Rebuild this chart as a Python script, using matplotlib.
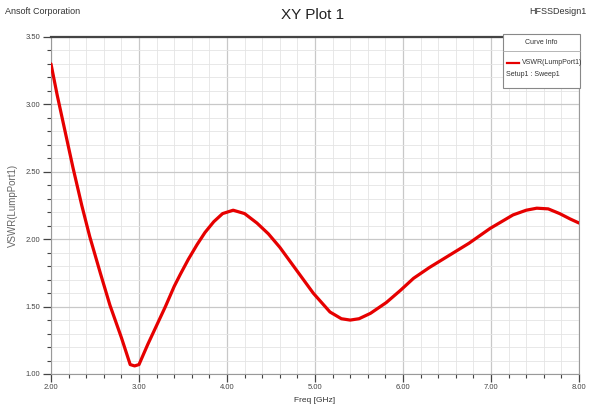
import matplotlib.pyplot as plt
from matplotlib.patches import Rectangle
from matplotlib.lines import Line2D
from matplotlib.ticker import MultipleLocator, FormatStrFormatter

plt.rcParams['font.family'] = ['Liberation Sans Narrow', 'Liberation Sans', 'DejaVu Sans']

# VSWR sweep of LumpPort1
freq_ghz = [2.00, 2.07, 2.14, 2.25, 2.35, 2.44, 2.56, 2.67, 2.80, 2.90, 2.95, 3.00,
            3.10, 3.20, 3.30, 3.40, 3.47, 3.56, 3.66, 3.75, 3.85, 3.95, 4.07,
            4.20, 4.34, 4.47, 4.60, 4.79, 4.98, 5.17, 5.30, 5.40, 5.50, 5.63,
            5.81, 5.97, 6.12, 6.30, 6.50, 6.75, 6.99, 7.25, 7.40, 7.52, 7.65, 7.78,
            7.90, 8.00]
vswr = [3.30, 3.07, 2.86, 2.53, 2.25, 2.02, 1.75, 1.51, 1.27, 1.07, 1.06, 1.07,
        1.22, 1.36, 1.50, 1.65, 1.74, 1.85, 1.96, 2.05, 2.13, 2.19, 2.215,
        2.19, 2.12, 2.04, 1.94, 1.77, 1.60, 1.46, 1.41, 1.40, 1.41, 1.45,
        1.53, 1.62, 1.71, 1.79, 1.87, 1.97, 2.08, 2.18, 2.215, 2.23, 2.225, 2.19,
        2.15, 2.12]

fig = plt.figure(figsize=(5.9, 4.08), dpi=100)
ax = fig.add_axes([51 / 590, 34 / 408, 528 / 590, 337 / 408])

ax.plot(freq_ghz, vswr, color='#e60000', lw=2.3, solid_joinstyle='round',
        solid_capstyle='round', zorder=3)

ax.set_xlim(2.0, 8.0)
ax.set_ylim(1.0, 3.5)
ax.xaxis.set_major_locator(MultipleLocator(1.0))
ax.xaxis.set_minor_locator(MultipleLocator(0.2))
ax.yaxis.set_major_locator(MultipleLocator(0.5))
ax.yaxis.set_minor_locator(MultipleLocator(0.1))
ax.xaxis.set_major_formatter(FormatStrFormatter('%.2f'))
ax.yaxis.set_major_formatter(FormatStrFormatter('%.2f'))

ax.grid(which='major', color='#c8c8c8', lw=0.9)
ax.grid(which='minor', color='#e4e4e4', lw=0.6)
ax.set_axisbelow(True)

ax.tick_params(which='both', direction='out', colors='#444444', labelsize=5.5)
ax.tick_params(which='major', length=6, width=0.9, pad=1.5)
ax.tick_params(which='minor', length=3, width=0.8)

for side in ['left', 'bottom', 'right']:
    ax.spines[side].set_color('#999999')
    ax.spines[side].set_linewidth(0.8)
ax.spines['top'].set_color('#444444')
ax.spines['top'].set_linewidth(1.6)

ax.set_xlabel('Freq [GHz]', fontsize=6, color='#333333')
ax.xaxis.set_label_coords(0.5, -0.08)
ax.xaxis.label.set_va('center')
ax.set_ylabel('VSWR(LumpPort1)', fontsize=7, color='#666666')
ax.yaxis.set_label_coords(-0.072, 0.5)
ax.yaxis.label.set_va('center')

fig.text(5 / 590, 1 - 12 / 408, 'Ansoft Corporation', fontsize=6.5, color='#333333', va='center')
fig.text(313 / 590, 1 - 15 / 408, 'XY Plot 1', fontsize=11, color='#222222',
         ha='center', va='center')
fig.text(586 / 590, 1 - 12 / 408, 'HFSSDesign1', fontsize=6.5, color='#333333',
         ha='right', va='center')

# curve info box
W, H = 590.0, 408.0
box = Rectangle((503 / W, 1 - 88 / H), 77 / W, 54 / H, transform=fig.transFigure,
                facecolor='white', edgecolor='#888888', lw=0.8, zorder=5)
fig.add_artist(box)
fig.add_artist(Line2D([503 / W, 580 / W], [1 - 51 / H, 1 - 51 / H],
                      transform=fig.transFigure, color='#aaaaaa', lw=0.6, zorder=6))
fig.text(541 / W, 1 - 43 / H, 'Curve Info', fontsize=5, color='#333333',
         ha='center', va='center', zorder=7)
fig.add_artist(Line2D([507 / W, 519 / W], [1 - 63 / H, 1 - 63 / H],
                      transform=fig.transFigure, color='#e60000', lw=1.6, zorder=6))
fig.text(522 / W, 1 - 63 / H, 'VSWR(LumpPort1)', fontsize=5, color='#333333',
         va='center', zorder=7)
fig.text(506 / W, 1 - 74 / H, 'Setup1 : Sweep1', fontsize=5, color='#333333',
         va='center', zorder=7)

fig.savefig('out.png', dpi=100)
